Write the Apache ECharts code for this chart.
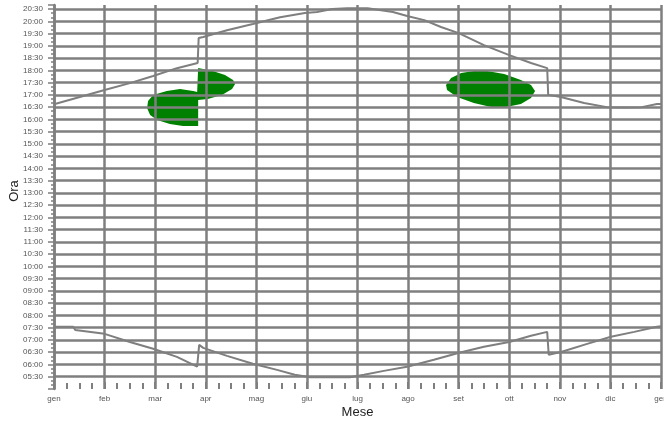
<!DOCTYPE html>
<html>
<head>
<meta charset="utf-8">
<script src="https://cdn.jsdelivr.net/npm/echarts@6/dist/echarts.min.js"></script>
<style>html,body{margin:0;padding:0;background:#fff;}#c{width:664px;height:421px;}</style>
</head>
<body>
<div id="c"></div>
<script>
// Month labels for the x axis (value axis, 0..12 months)
const monthLabels = ['gen','feb','mar','apr','mag','giu','lug','ago','set','ott','nov','dic','gen'];
// Y tick labels (every 30 minutes from 05:30 to 20:30)
const yTickLabels = ['05:30','06:00','06:30','07:00','07:30','08:00','08:30','09:00','09:30','10:00','10:30','11:00','11:30','12:00','12:30','13:00','13:30','14:00','14:30','15:00','15:30','16:00','16:30','17:00','17:30','18:00','18:30','19:00','19:30','20:00','20:30'];

// Upper curve (sunset), x in months, y in decimal hours
const sunsetMonth = [0, 0.51, 1.0, 1.5, 1.96, 2.43, 2.84, 2.86, 2.95, 3.42, 3.93, 4.47, 4.96, 5.2, 5.5, 5.8, 6.2, 6.4, 6.7, 7.0, 7.32, 7.65, 8.0, 8.5, 9.0, 9.43, 9.75, 9.77, 10.02, 10.48, 10.93, 11.3, 11.62, 11.92, 12];
const sunsetHour  = [16.62, 16.91, 17.20, 17.48, 17.77, 18.09, 18.30, 19.32, 19.36, 19.64, 19.89, 20.17, 20.34, 20.38, 20.50, 20.53, 20.53, 20.47, 20.38, 20.21, 20.05, 19.77, 19.52, 19.03, 18.62, 18.30, 18.09, 17.00, 16.91, 16.67, 16.50, 16.48, 16.50, 16.63, 16.63];

// Lower curve (sunrise)
const sunriseMonth = [0, 0.38, 0.42, 1.0, 1.5, 1.96, 2.43, 2.83, 2.87, 2.95, 3.42, 3.93, 4.41, 4.76, 5.06, 5.85, 6.13, 6.52, 6.98, 7.51, 8.01, 8.5, 9.0, 9.43, 9.75, 9.78, 10.04, 10.54, 11.01, 11.47, 11.92, 12];
const sunriseHour  = [7.54, 7.54, 7.41, 7.25, 6.92, 6.64, 6.31, 5.91, 6.80, 6.68, 6.35, 6.03, 5.78, 5.58, 5.48, 5.48, 5.58, 5.74, 5.91, 6.19, 6.48, 6.72, 6.92, 7.17, 7.33, 6.40, 6.52, 6.84, 7.13, 7.33, 7.54, 7.56];

// Green region in spring (outline)
const springBlobMonth = [2.85, 3.14, 3.38, 3.54, 3.58, 3.52, 3.32, 3.04, 2.85, 2.85, 2.55, 2.29, 2.04, 1.90, 1.84, 1.86, 1.96, 2.23, 2.49, 2.75, 2.83];
const springBlobHour  = [18.10, 17.97, 17.81, 17.61, 17.44, 17.24, 16.99, 16.83, 16.79, 15.73, 15.73, 15.81, 15.97, 16.18, 16.46, 16.75, 16.99, 17.16, 17.24, 17.16, 17.12];

// Green region in autumn (outline)
const autumnBlobMonth = [7.75, 7.85, 8.05, 8.30, 8.56, 8.90, 9.23, 9.43, 9.51, 9.43, 9.23, 8.94, 8.64, 8.30, 7.97, 7.77];
const autumnBlobHour  = [17.40, 17.69, 17.89, 17.97, 17.97, 17.85, 17.61, 17.40, 17.16, 16.87, 16.63, 16.51, 16.51, 16.67, 16.91, 17.20];

const gray = '#7f7f7f';
const green = '#008000';
const zip = (a, b) => a.map((v, i) => [v, b[i]]);

function blobSeries(ms, hs) {
  return {
    type: 'custom',
    z: 1,
    silent: true,
    data: [[ms[0], hs[0]]],
    renderItem: function (params, api) {
      const pts = ms.map((m, i) => api.coord([m, hs[i]]));
      return { type: 'polygon', shape: { points: pts }, style: { fill: green, stroke: null } };
    }
  };
}

const chart = echarts.init(document.getElementById('c'), null, { renderer: 'canvas' });
chart.setOption({
  animation: false,
  backgroundColor: '#fff',
  grid: { left: 54, right: 3, top: 5, bottom: 32, containLabel: false, outerBoundsMode: 'none' },
  xAxis: {
    type: 'value', min: 0, max: 12, interval: 1, z: 5,
    axisLine: { show: false },
    axisTick: { show: true, inside: true, length: 7, lineStyle: { color: gray, width: 2 } },
    minorTick: { show: true, splitNumber: 4, length: 6, lineStyle: { color: gray, width: 2 } },
    splitLine: { show: true, lineStyle: { color: gray, width: 2.5 } },
    axisLabel: { margin: 6, fontSize: 8, color: '#555', fontFamily: 'Liberation Sans',
      formatter: v => monthLabels[Math.round(v)] },
    name: 'Mese', nameLocation: 'middle', nameGap: 17, nameMoveOverlap: false,
    nameTextStyle: { fontSize: 13, color: '#222', fontFamily: 'Liberation Sans' }
  },
  yAxis: {
    type: 'value', min: 5, max: 20.667, interval: 0.5, z: 5,
    axisLine: { show: true, lineStyle: { color: gray, width: 2.5 } },
    axisTick: { show: true, length: 6, lineStyle: { color: gray, width: 1.5 } },
    minorTick: { show: true, splitNumber: 3, length: 3, lineStyle: { color: gray, width: 1.5 } },
    splitLine: { show: true, showMinLine: false, showMaxLine: false, lineStyle: { color: gray, width: 2.5 } },
    axisLabel: { showMinLabel: false, showMaxLabel: false, margin: 11, fontSize: 8, color: '#555',
      fontFamily: 'Liberation Sans',
      formatter: v => { const i = Math.round((v - 5.5) / 0.5); return yTickLabels[i] || ''; } },
    name: 'Ora', nameLocation: 'middle', nameGap: 33, nameRotate: 90, nameMoveOverlap: false,
    nameTextStyle: { fontSize: 13, color: '#222', fontFamily: 'Liberation Sans', padding: [0, 0, 0, 12] }
  },
  series: [
    blobSeries(springBlobMonth, springBlobHour),
    blobSeries(autumnBlobMonth, autumnBlobHour),
    { type: 'line', z: 2, data: zip(sunsetMonth, sunsetHour), showSymbol: false, silent: true,
      lineStyle: { color: gray, width: 2 } },
    { type: 'line', z: 2, data: zip(sunriseMonth, sunriseHour), showSymbol: false, silent: true,
      lineStyle: { color: gray, width: 2 } }
  ]
});
</script>
</body>
</html>
